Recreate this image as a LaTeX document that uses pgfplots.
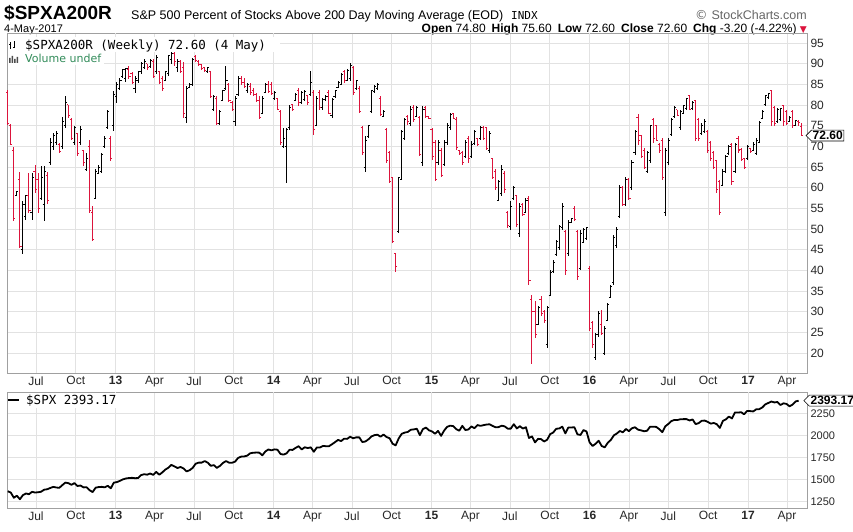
\documentclass[border=0pt]{standalone}
\usepackage{pgfplots}
\pgfplotsset{compat=1.18}
\usepackage{pgfplotstable}
\usepackage{fontspec}
\setmainfont{Liberation Sans}
\newfontfamily\legfont{DejaVu Sans Mono}
\newfontfamily\symfont{DejaVu Sans}
\usetikzlibrary{shapes.symbols}

\definecolor{barred}{RGB}{220,20,60}
\definecolor{gridc}{RGB}{226,226,226}
\definecolor{yeargrid}{RGB}{196,196,196}
\definecolor{framec}{RGB}{160,160,160}
\definecolor{lblc}{RGB}{40,40,40}
\definecolor{volgreen}{RGB}{50,140,90}

% open tick to the left, close tick to the right
\pgfdeclareplotmark{otick}{\pgfpathmoveto{\pgfpoint{-1.6pt}{0pt}}\pgfpathlineto{\pgfpoint{0pt}{0pt}}\pgfusepathqstroke}
\pgfdeclareplotmark{ctick}{\pgfpathmoveto{\pgfpoint{0pt}{0pt}}\pgfpathlineto{\pgfpoint{1.6pt}{0pt}}\pgfusepathqstroke}

\tikzset{
  lastval/.style={signal, signal to=west, draw=black, fill=white, line width=0.6pt,
    inner sep=1.2pt, anchor=west, font=\fontsize{12}{12}\selectfont\bfseries},
}

\pgfplotsset{
  sc/.style={
    scale only axis, width=800pt,
    xmin=-0.26, xmax=263.76,
    axis line style={framec},
    grid=major, major grid style={gridc, line width=0.6pt},
    major tick length=0pt,
    xtick={9.29,22.43,35.57,48.43,61.43,74.57,87.71,100.57,113.57,126.71,139.86,152.71,165.71,178.86,192,205,218,231.14,244.29,257.14},
    xticklabels={Jul,Oct,\textbf{13},Apr,Jul,Oct,\textbf{14},Apr,Jul,Oct,\textbf{15},Apr,Jul,Oct,\textbf{16},Apr,Jul,Oct,\textbf{17},Apr},
    extra x ticks={35.57,87.71,139.86,192,244.29},
    extra x tick labels={},
    extra x tick style={grid style={yeargrid, line width=0.8pt}},
    xticklabel style={font=\fontsize{12}{12}\selectfont, text=lblc},
    yticklabel pos=right,
    /pgf/number format/assume math mode=true,
    /pgf/number format/1000 sep={},
    clip mode=individual,
  },
  % #1 = domain of column d, #2 = colour
  ohlc/.style 2 args={#2, only marks, mark=ctick, mark options={line width=1pt, #2},
    restrict expr to domain={\thisrow{d}}{#1},
    error bars/.cd, y dir=both, y explicit, error mark=none,
    error bar style={line width=1pt, draw=#2}},
  otick/.style 2 args={#2, only marks, mark=otick, mark options={line width=1pt, #2},
    restrict expr to domain={\thisrow{d}}{#1}},
}

% i open high low close d (1 = up week, 0 = down week)
\pgfplotstableread{
i o h l c d
0 83 83.7 75.3 75.5 0
1 75 75.3 70.4 70.5 0
2 69 69.8 51.9 52.5 0
3 58.2 59.3 57.9 59 1
4 62 63.7 45.4 45.8 0
5 45 56.7 44.0 56 1
6 53 58.3 52.3 58 1
7 58 63.5 53.9 54.5 0
8 54 63.5 52.3 62.5 1
9 64 65.6 58.7 59.5 0
10 62 63.5 54.0 55 0
11 57.5 65.2 57.1 62.5 1
12 56 65.3 51.9 64 1
13 63 63.7 56.1 57 0
14 66 72.0 65.6 71 1
15 70 73.2 69.2 72.5 1
16 71 73.6 70.4 73 1
17 70.5 70.8 68.4 68.8 0
18 70 77.1 69.4 76 1
19 75 82.1 74.4 80.5 1
20 80 80.1 76.9 77.5 0
21 76.5 76.9 71.6 72 0
22 71 74.8 70.4 74.5 1
23 73 73.2 67.6 68.2 0
24 71 74.8 70.4 74 1
25 69 69.2 65.2 66 0
26 64.5 68.4 64.0 67 1
27 70 71.6 53.9 54.5 0
28 54 55.5 47.0 47.5 0
29 57.5 64.4 57.2 64 1
30 63.5 65.6 63.2 65 1
31 64 68.4 63.6 68 1
32 70 72.4 69.6 72 1
33 74.5 78.7 74.2 78.5 1
34 72 72.6 66.4 67 0
35 75 83.3 73.6 82.5 1
36 82 85.5 80.5 85 1
37 84 86.5 83.7 86 1
38 87 88.7 86.5 88.5 1
39 86.5 89.0 85.5 88.8 1
40 88.5 89.3 86.3 86.8 0
41 87.5 88.0 85.0 85.5 0
42 84 87.0 83.0 86.5 1
43 86 88.3 85.3 88 1
44 88 90.5 87.5 90 1
45 89 91.0 88.8 90.5 1
46 90 90.0 88.5 89 0
47 89.2 91.0 89.0 90.8 1
48 90.5 91.0 86.5 87 0
49 88 92.0 87.5 91.5 1
50 88 88.3 85.0 85.5 0
51 86.5 86.9 83.3 84 0
52 86 88.1 85.7 88 1
53 87.5 92.2 86.9 92 1
54 91 93.0 90.0 92.5 1
55 92.5 92.8 89.5 90.5 0
56 89 91.0 88.0 90.6 1
57 90.5 90.8 87.7 88 0
58 89 90.4 76.9 78 0
59 77 84.5 75.6 84 1
60 84.3 85.2 84 85 1
61 85 91.4 84.5 91 1
62 91.8 92.0 90.5 90.8 0
63 90.5 90.8 89.5 89.8 0
64 89.8 90.0 88.5 88.8 0
65 89 89.2 88.2 88.3 0
66 88 89.2 87.7 89 1
67 88 88.1 81.7 82 0
68 79 82.5 78.5 82 1
69 81.5 82.1 75.2 75.5 0
70 75.5 78.9 75.2 78.5 1
71 81 83.7 80.9 83.5 1
72 84 89.4 83.7 86 1
73 85 85.3 80.9 81 0
74 80.5 80.9 78.5 79 0
75 76 82.1 74.8 81.5 1
76 82.5 86.9 82.1 86.5 1
77 86.5 86.9 84.9 85.5 0
78 85.5 86.5 84.1 84.5 0
79 83.5 85.3 82.9 85 1
80 84.5 85.3 82.5 83 0
81 83.5 84.1 82.1 82.5 0
82 82.5 82.9 80.9 81 0
83 81 82.1 76.5 77 0
84 78 82.1 77.7 81.5 1
85 83 85.3 82.9 85 1
86 85 85.7 82.9 83.2 0
87 85 85.5 82.3 82.8 0
88 81.5 83.3 81.3 83 1
89 81.5 81.7 78.9 79 0
90 78.5 78.9 70.4 71 0
91 70 74.4 69.6 72 1
92 70 74.4 61.1 74 1
93 74.5 80.1 74.0 79.5 1
94 80 80.1 78.5 78.8 0
95 81 82.9 80.9 82.5 1
96 83.5 84.1 79.7 80.5 0
97 80.6 83.3 80.3 83 1
98 81.3 83.5 81.0 83.2 1
99 82.3 82.5 80.1 80.5 0
100 82.5 88.1 82.1 85.5 1
101 83 83.7 72.8 74 0
102 75 82.1 74.8 81.5 1
103 83 83.7 78.9 79.5 0
104 79.3 81.7 78.9 81.3 1
105 81.3 82.3 81.0 82 1
106 83 83.7 77.7 78 0
107 77.5 81.7 76.9 81.3 1
108 82 83.7 81.7 83.5 1
109 84.3 85.7 84.1 85.5 1
110 85 87.7 84.9 87.3 1
111 88 88.5 85.3 85.8 0
112 86 88.7 85.7 88.3 1
113 86.5 90.2 85.7 89.5 1
114 89 89.4 82.5 83 0
115 84 86.1 83.7 85.8 1
116 84 84.5 78.1 78.5 0
117 74.5 74.8 68.0 68.5 0
118 65 72.4 63.7 71.5 1
119 72.3 75.2 72.0 75 1
120 78.5 83.7 78.1 83.5 1
121 83.2 84.9 82.9 84.5 1
122 84 85.3 83.5 85 1
123 81.5 82.1 77.3 77.8 0
124 77.3 78.9 77.1 78.5 1
125 74 74.4 66.0 66.5 0
126 68.5 68.8 61.1 61.5 0
127 62.5 62.7 46.6 47 0
128 44 44.0 39.5 41 0
129 49.5 62.7 49.0 62.5 1
130 62 74.0 61.9 73.5 1
131 72 76.9 71.6 76.5 1
132 77.2 77.5 75.2 76 0
133 75.5 79.7 74.8 79 1
134 79.5 80.0 76.0 76.5 0
135 77.3 79.7 77.1 79.5 1
136 77 77.3 67.6 68 0
137 66 79.7 65.2 79 1
138 79.5 79.7 76.9 77.3 0
139 77.2 77.3 76.5 76.8 0
140 74 74.4 66.8 67.5 0
141 71 71.6 61.5 62 0
142 66 71.6 65.6 71 1
143 69 69.6 62.7 63 0
144 65.5 71.6 65.2 71 1
145 71 75.6 70.4 75 1
146 74.5 78.1 74.0 77.8 1
147 78 78.1 76.5 76.8 0
148 76.5 77.1 69.2 69.8 0
149 69 69.2 68.0 68.3 0
150 68.5 68.8 65.6 66 0
151 67.5 71.6 67.2 71 1
152 72 72.4 66.0 67 0
153 67.5 71.2 67.2 70.5 1
154 70.8 74.0 70.4 73.5 1
155 71.8 72.0 70.0 70.5 0
156 72 74.8 71.6 74.5 1
157 74.5 74.8 71.5 72 0
158 74.5 74.5 69.2 69.5 0
159 69 73.6 68.4 73 1
160 67 67.2 62.0 62.5 0
161 64 64.4 59.5 60 0
162 57 61.9 56.7 61.5 1
163 58.5 65.6 57.9 64.5 1
164 63.5 64.0 58.7 59.5 0
165 54 54.3 50.2 50.8 0
166 50.5 56.7 49.8 55.5 1
167 57.5 60.3 57.1 60 1
168 58 58.3 50.6 51 0
169 49 56.3 48.2 55.5 1
170 56 56.3 53.1 53.5 0
171 54 57.5 53.9 57 1
172 57.5 57.9 36.5 37.5 0
173 33 34.1 17.3 30 0
174 30 32.5 23.6 24.5 0
175 27 31.3 26.9 31 1
176 33 33.7 28.9 29.5 0
177 30 30.5 27.3 28 0
178 22 31.3 21.2 31 1
179 34 40.2 33.7 39.5 1
180 39.8 42.6 39.4 42 1
181 43.8 47.4 43.4 47 1
182 45.5 51.0 45.0 50.5 1
183 50.3 56.3 49.8 55.5 1
184 49.5 49.8 39.0 40 0
185 44 52.3 43.4 51.5 1
186 51.7 52.7 51.5 52.5 1
187 55 55.5 52.0 52.2 0
188 49.5 49.8 37.7 38.5 0
189 40.5 49.8 40.2 49 1
190 46.8 50.2 46.6 49.8 1
191 47.8 50.6 47.4 50.3 1
192 40.5 41.0 25.3 26 0
193 27.5 27.7 21.2 22 0
194 19 24.8 18.4 24.5 1
195 24.5 30.1 24.0 29.5 1
196 27 30.5 24.4 24.8 0
197 20 26.5 19.6 26 1
198 28 32.1 27.7 31.8 1
199 33.5 36.5 33.3 36 1
200 37 48.6 36.5 48 1
201 46 50.6 45.4 50 1
202 53 60.7 52.7 60 1
203 60 60.3 55.5 56 0
204 56 62.7 55.5 62 1
205 62 62.3 57.1 57.5 0
206 60 66.8 59.5 66 1
207 68.5 74.0 68.0 73.5 1
208 77 77.7 70.4 71.5 0
209 72.5 72.8 67.2 67.5 0
210 69 69.6 64.4 65 0
211 64 68.8 63.6 68.5 1
212 66.5 75.2 66.0 75 1
213 76.5 76.9 70.8 72 0
214 75 75.2 71.2 71.5 0
215 70.5 70.8 68.4 69 0
216 71.5 72.0 61.9 62.5 0
217 54 69.6 53.1 69 1
218 66 72.0 65.6 71.5 1
219 72.8 76.9 72.4 76.5 1
220 77.2 79.7 76.9 79.5 1
221 78.8 78.9 77.3 77.5 0
222 74.5 78.9 74.0 78.5 1
223 78 80.1 77.7 79.8 1
224 79.2 81.7 78.9 81.5 1
225 82.3 82.5 78.9 79 0
226 79.2 80.9 78.9 80.5 1
227 81 81.3 71.2 72 0
228 76.5 76.9 71.2 71.8 0
229 73 75.6 72.8 75 1
230 73.5 76.5 73.2 76 1
231 73.5 74.0 68.4 69 0
232 71 71.2 66.4 67 0
233 68.5 68.8 64.4 65 0
234 66.5 66.8 58.7 59.5 0
235 61.5 61.9 53.5 54 0
236 60.5 64.4 60.3 64 1
237 64 68.0 63.6 67.5 1
238 68.2 70.4 68.0 70 1
239 70.5 70.8 60.7 61.5 0
240 64 70.8 63.6 70.5 1
241 72 72.4 68.4 69 0
242 69.3 69.6 66.4 66.8 0
243 67 67.2 64.4 64.8 0
244 67 70.4 66.8 70 1
245 69.5 69.6 68.4 68.7 0
246 69 71.0 68.8 70.5 1
247 68.3 72.0 68.0 71.5 1
248 71 76.1 70.8 75.8 1
249 76.8 78.9 76.5 78.5 1
250 80 82.5 79.7 82.3 1
251 81.7 83.0 81.5 82.8 1
252 83.5 83.7 75.0 76 0
253 79.5 79.7 75.0 75.5 0
254 76 79.3 75.6 79 1
255 76.5 79.3 76.1 79.2 1
256 79.8 80.1 75.0 76 0
257 78.5 78.9 75.2 75.5 0
258 76 77.3 75.8 77 1
259 78.5 78.9 74.4 75 0
260 75 76.4 74.8 76.2 1
261 76 76.3 75.0 75.8 0
262 74.8 75.6 72.6 72.6 0
}\ohlc

% $SPX weekly close
\pgfplotstableread{
v
1369
1353
1295
1318
1278
1325
1343
1335
1362
1354
1357
1363
1386
1391
1405
1418
1411
1407
1438
1466
1460
1441
1461
1428
1433
1412
1414
1380
1359
1409
1416
1418
1413
1430
1402
1466
1472
1486
1503
1513
1518
1520
1516
1518
1551
1561
1556
1569
1553
1588
1555
1582
1614
1634
1667
1650
1631
1643
1626
1593
1606
1632
1680
1692
1692
1710
1691
1656
1664
1633
1655
1688
1710
1692
1691
1703
1745
1760
1762
1771
1798
1804
1806
1805
1775
1818
1841
1831
1842
1838
1790
1783
1797
1838
1836
1859
1878
1841
1866
1857
1865
1815
1864
1863
1881
1878
1878
1900
1924
1949
1936
1963
1961
1985
1968
1978
1978
1925
1931
1955
1988
2003
2008
1985
2010
1982
1968
1906
1887
1965
2018
2032
2039
2064
2068
2075
2003
2071
2089
2058
2045
2019
2051
1995
2055
2097
2110
2105
2071
2053
2108
2061
2067
2102
2081
2117
2108
2116
2123
2126
2107
2092
2094
2110
2102
2076
2077
2127
2079
2104
2078
2092
1971
1989
1921
1961
1958
1931
1951
2014
2033
2075
2079
2099
2023
2089
2090
2092
2012
2005
2061
2044
1922
1880
1906
1940
1880
1865
1917
1948
2000
2022
2050
2035
2073
2048
2081
2092
2065
2057
2047
2053
2099
2099
2096
2071
2037
2103
2130
2162
2175
2174
2183
2184
2184
2169
2180
2128
2139
2165
2168
2153
2133
2141
2126
2085
2164
2182
2213
2192
2260
2258
2263
2239
2277
2275
2271
2295
2297
2316
2351
2367
2383
2373
2378
2344
2363
2356
2329
2349
2384
2393.17
}\spx

\begin{document}
\begin{tikzpicture}[x=1pt,y=1pt]
\useasboundingbox (0,0) rectangle (853,532);
\fill[white] (0,0) rectangle (853,532);
\clip (0,0) rectangle (853,532);

% header
\node[anchor=base west, inner sep=0pt] at (4,512) {\fontsize{19}{19}\selectfont\bfseries \$SPXA200R};
\node[anchor=base west, inner sep=0pt] at (131,512) {\fontsize{12.5}{13}\selectfont S\&P 500 Percent of Stocks Above 200 Day Moving Average (EOD)};
\node[anchor=base west, inner sep=0pt] at (511,512) {\legfont\fontsize{11}{12}\selectfont INDX};
\node[anchor=base east, inner sep=0pt, text=black!60] at (807,512) {\fontsize{12.5}{13}\selectfont \symfont\char"00A9\ \rmfamily StockCharts.com};
\node[anchor=base west, inner sep=0pt] at (4,499.5) {\fontsize{11}{11}\selectfont 4-May-2017};
\node[anchor=base east, inner sep=0pt] at (807,499.5) {\fontsize{12}{12}\selectfont \textbf{Open} 74.80\enspace\textbf{High} 75.60\enspace\textbf{Low} 72.60\enspace\textbf{Close} 72.60\enspace\textbf{Chg} -3.20 (-4.22\%) {\color{barred}\symfont\fontsize{9}{9}\selectfont ▼}};

% upper panel: weekly OHLC bars
\begin{axis}[sc, at={(7pt,159pt)}, anchor=south west, height=340pt,
  ymin=15.2, ymax=97.4, ytick={20,25,...,95},
  yticklabel style={font=\fontsize{12}{12}\selectfont, text=lblc}]
\addplot[ohlc={0.5:1.5}{black}] table[x=i, y=c, y error plus expr=\thisrow{h}-\thisrow{c}, y error minus expr=\thisrow{c}-\thisrow{l}] {\ohlc};
\addplot[otick={0.5:1.5}{black}] table[x=i, y=o] {\ohlc};
\addplot[ohlc={-0.5:0.5}{barred}] table[x=i, y=c, y error plus expr=\thisrow{h}-\thisrow{c}, y error minus expr=\thisrow{c}-\thisrow{l}] {\ohlc};
\addplot[otick={-0.5:0.5}{barred}] table[x=i, y=o] {\ohlc};
\coordinate (lastA) at (axis cs:263.3,72.6);
\end{axis}

% lower panel: $SPX
\begin{axis}[sc, at={(7pt,24pt)}, anchor=south west, height=116pt,
  ymin=1179, ymax=2491, ytick={1250,1500,...,2250},
  yticklabel style={font=\fontsize{11}{11}\selectfont, text=lblc}]
\addplot[black, line width=1.8pt, line join=round] table[x expr=\coordindex, y=v] {\spx};
\coordinate (lastB) at (axis cs:262.6,2393.17);
\end{axis}

% last-value boxes over the right-hand scales
\node[lastval] at (lastA) {72.60};
\node[lastval] at (lastB) {2393.17};

% legends
\fill[white] (8,480) rectangle (280,495);
\fill[white] (8,467) rectangle (104,480);
\draw[black, line width=0.8pt] (10,483)--(10,490) (9,488)--(10,488) (10,485)--(11,485)
  (14,484)--(14,491) (13,485)--(14,485) (14,489)--(15,489);
\node[anchor=base west, inner sep=0pt] at (25,482) {\legfont\fontsize{12.5}{13}\selectfont \$SPXA200R (Weekly) 72.60 (4 May)};
\fill[black!70] (9,469) rectangle (10.5,474) (11.5,469) rectangle (13,476) (14,469) rectangle (15.5,473) (16.5,469) rectangle (18,475);
\node[anchor=base west, inner sep=0pt, text=volgreen] at (25,469) {\symfont\fontsize{11}{12}\selectfont Volume undef};

\fill[white] (8,124) rectangle (125,139);
\draw[black, line width=1.4pt] (8,132)--(19,132);
\node[anchor=base west, inner sep=0pt] at (26,127) {\legfont\fontsize{12.5}{13}\selectfont \$SPX 2393.17};
\end{tikzpicture}
\end{document}
